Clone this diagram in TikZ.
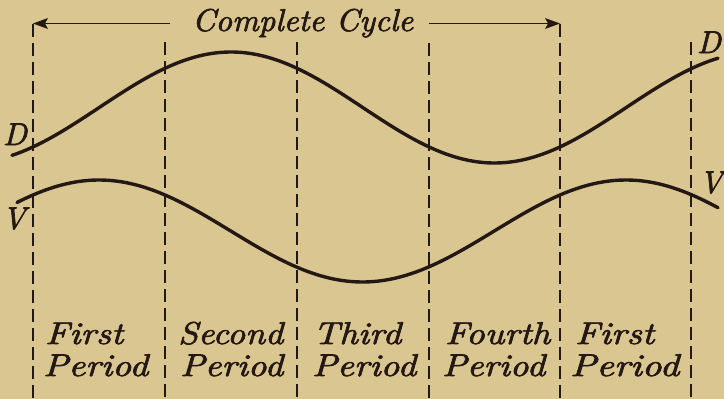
\documentclass[tikz,border=0pt]{standalone}
\usepackage{fontspec}
\newfontfamily\labfont{lmroman10-italic.otf}[FakeBold=2]
\definecolor{paper}{RGB}{218,198,144}
\definecolor{ink}{RGB}{36,24,20}
\newcommand{\fitw}[2]{\resizebox{#1pt}{\height}{#2}}
\begin{document}
\begin{tikzpicture}[x=1pt,y=-1pt,
  lab/.style={inner sep=0pt, anchor=base west, text=ink, font=\labfont\fontsize{31.5}{36}\selectfont},
  letter/.style={inner sep=0pt, anchor=base, text=ink, font=\labfont\fontsize{31.5}{36}\selectfont},
  curve/.style={draw=ink, line width=3.4pt, line cap=round},
  divider/.style={draw=ink, line width=1.8pt, dash pattern=on 13pt off 6pt},
  span/.style={draw=ink, line width=1.8pt},
  tip/.style={fill=ink}]
\fill[paper] (0,0) rectangle (724,399);
\useasboundingbox (0,0) rectangle (724,399);
% divider end points
\coordinate (t0) at (33,23.5);  \coordinate (b0) at (33,399);
\coordinate (t1) at (165,42);   \coordinate (b1) at (165,399);
\coordinate (t2) at (297,42);   \coordinate (b2) at (297,399);
\coordinate (t3) at (429,43);   \coordinate (b3) at (429,399);
\coordinate (t4) at (560,23.5); \coordinate (b4) at (560,399);
\coordinate (t5) at (691,42);   \coordinate (b5) at (691,399);
\foreach \i in {0,...,5} { \draw[divider] (t\i) -- (b\i); }
% cycle arrows
\coordinate (la) at (170,23.5);
\coordinate (ra) at (429,23.5);
\draw[span] (la) -- ([xshift=8pt]t0);
\draw[span] (ra) -- ([xshift=-8pt]t4);
\fill[tip] (t0) -- ([shift={(15,-5.5)}]t0) -- ([shift={(12,0)}]t0) -- ([shift={(15,5.5)}]t0) -- cycle;
\fill[tip] (t4) -- ([shift={(-15,-5.5)}]t4) -- ([shift={(-12,0)}]t4) -- ([shift={(-15,5.5)}]t4) -- cycle;
\node[lab] (title) at (192,31) {\fitw{221}{Complete Cycle}};
% curves
\draw[curve] plot[domain=12:718, samples=160, smooth] (\x, {107.5-55.5*cos(0.683112*(\x-231))});
\draw[curve] plot[domain=17:718, samples=160, smooth] (\x, {231-51*cos(0.683112*(\x-99))});
% curve labels
\node[letter] (dl) at (15,145) {D};
\node[letter] (dr) at (709,53) {D};
\node[letter] (vl) at (14,229) {V};
\node[letter] (vr) at (711,193) {V};
% period labels
\node[lab] (p1a) at (45,344)  {\fitw{78}{First}};
\node[lab] (p1b) at (43,376)  {\fitw{105}{Period}};
\node[lab] (p2a) at (178,344) {\fitw{105}{Second}};
\node[lab] (p2b) at (180,376) {\fitw{103}{Period}};
\node[lab] (p3a) at (313,344) {\fitw{88}{Third}};
\node[lab] (p3b) at (312,376) {\fitw{104}{Period}};
\node[lab] (p4a) at (445,344) {\fitw{105}{Fourth}};
\node[lab] (p4b) at (442,376) {\fitw{103}{Period}};
\node[lab] (p5a) at (575,344) {\fitw{79}{First}};
\node[lab] (p5b) at (570,376) {\fitw{109}{Period}};
\end{tikzpicture}
\end{document}
